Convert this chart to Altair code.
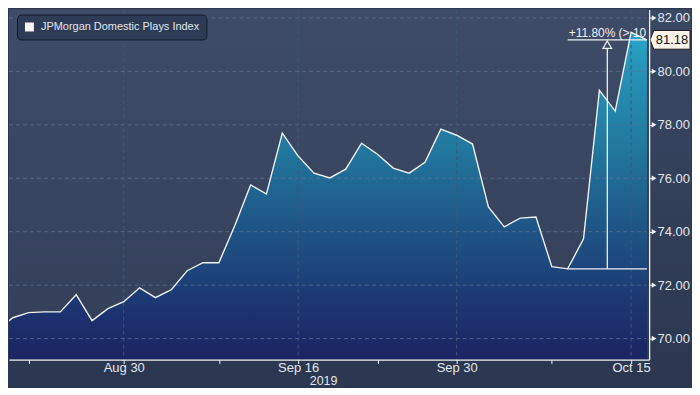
import altair as alt
import pandas as pd

# ---------------- data ----------------
dates = ["Aug 20", "Aug 21", "Aug 22", "Aug 23", "Aug 26", "Aug 27", "Aug 28", "Aug 29", "Aug 30",
         "Sep 2", "Sep 3", "Sep 4", "Sep 5", "Sep 6", "Sep 9", "Sep 10", "Sep 11", "Sep 12", "Sep 13",
         "Sep 16", "Sep 17", "Sep 18", "Sep 19", "Sep 20", "Sep 23", "Sep 24", "Sep 25", "Sep 26", "Sep 27",
         "Sep 30", "Oct 1", "Oct 2", "Oct 3", "Oct 4", "Oct 7", "Oct 8", "Oct 9", "Oct 10", "Oct 11",
         "Oct 14", "Oct 15", "Oct 16"]
values = [70.30, 70.78, 70.97, 71.00, 71.00, 71.64, 70.67, 71.12, 71.38,
          71.90, 71.53, 71.83, 72.54, 72.84, 72.84, 74.22, 75.75, 75.41, 77.69,
          76.83, 76.19, 76.01, 76.34, 77.31, 76.90, 76.38, 76.19, 76.60, 77.84,
          77.61, 77.28, 74.93, 74.18, 74.51, 74.55, 72.69, 72.61, 73.73, 79.29,
          78.51, 81.46, 81.18]
series_name = "JPMorgan Domestic Plays Index"

tick_days = [2, 8, 14, 19, 24, 29, 35, 40]          # positions in `dates` carrying a tick
label_days = [8, 19, 29, 40]                        # labelled positions
label_text = ["Aug 30", "Sep 16", "Sep 30", "Oct 15"]
axis_year = "2019"
y_ticks = [70, 71, 72, 73, 74, 75, 76, 77, 78, 79, 80, 81, 82]
y_labels = [70, 72, 74, 76, 78, 80, 82]

last_value = 81.18
base_value = 72.61
annot_start = 36      # Oct 9
annot_end = 41        # Oct 16
annot_arrow_x = 38.5
annot_arrow_top = 80.86
annot_text = "+11.80% (> 10"

# ---------------- layout ----------------
W, H = 642, 351
FONT = "Liberation Sans"
TXT = "#e2e6ed"
WHITE = "#eef0f4"

xs = alt.Scale(domain=[0.761, 41.138], nice=False, zero=False)
ys = alt.Scale(domain=[69.216, 82.313], nice=False, zero=False)

df = pd.DataFrame({"i": list(range(len(values))), "v": values, "d": dates, "s": series_name})
one = pd.DataFrame({"k": [0]})

lab_expr = " : ".join(f"datum.value == {d} ? '{t}'" for d, t in zip(label_days, label_text)) + " : ''"

x_axis = alt.Axis(values=tick_days, labelExpr=lab_expr, tickSize=4, tickColor=WHITE,
                  domainColor=WHITE, domainWidth=1.3, labelColor=TXT, labelFontSize=13,
                  labelPadding=-2, labelOverlap=False, labelFlush=False, grid=False,
                  title=axis_year, titleFontSize=12.5, titleFontWeight="normal", titleColor=TXT,
                  titleX=315, titleY=15, titleBaseline="top", titleAlign="center", zindex=1)
y_axis = alt.Axis(orient="right", values=y_ticks,
                  labelExpr="datum.value % 2 == 0 ? format(datum.value, '.2f') : ''",
                  tickSize=4, tickColor=WHITE, domainColor=WHITE, domainWidth=1.3,
                  labelColor=TXT, labelFontSize=13, labelPadding=4, grid=False,
                  title=None, zindex=1)

# backgrounds
outer_bg = alt.Chart(one).mark_rect(
    strokeWidth=0,
    color=alt.Gradient(gradient="linear", x1=0, x2=0, y1=0, y2=1,
                       stops=[alt.GradientStop(color="#3b4863", offset=0),
                              alt.GradientStop(color="#2b3750", offset=1)])
).encode(x=alt.value(0), x2=alt.value(684), y=alt.value(0), y2=alt.value(379))

plot_bg = alt.Chart(one).mark_rect(
    strokeWidth=0,
    color=alt.Gradient(gradient="linear", x1=0, x2=0, y1=0, y2=1,
                       stops=[alt.GradientStop(color="#3f4c67", offset=0),
                              alt.GradientStop(color="#333f59", offset=1)])
).encode(x=alt.value(0), x2=alt.value(639), y=alt.value(0), y2=alt.value(H))

area = alt.Chart(df).mark_area(
    clip=True,
    color=alt.Gradient(gradient="linear", x1=0, x2=0, y1=0, y2=1,
                       stops=[alt.GradientStop(color="#2aa7c8", offset=0),
                              alt.GradientStop(color="#2692b6", offset=0.12),
                              alt.GradientStop(color="#22789f", offset=0.35),
                              alt.GradientStop(color="#1f5b8b", offset=0.55),
                              alt.GradientStop(color="#1d4079", offset=0.76),
                              alt.GradientStop(color="#1c2b69", offset=0.92),
                              alt.GradientStop(color="#1b2462", offset=1)])
).encode(x=alt.X("i:Q", scale=xs, axis=x_axis),
         y=alt.Y("v:Q", scale=ys, axis=y_axis, stack=False),
         y2=alt.value(H))

hgrid = alt.Chart(pd.DataFrame({"v": y_labels})).mark_rule(
    strokeDash=[4, 3], color="#5f7292", opacity=0.75, strokeWidth=1
).encode(y=alt.Y("v:Q", scale=ys), x=alt.value(0), x2=alt.value(639))

vgrid = alt.Chart(pd.DataFrame({"i": label_days})).mark_rule(
    strokeDash=[4, 3], color="#3a5878", strokeWidth=1
).encode(x=alt.X("i:Q", scale=xs), y=alt.value(0), y2=alt.value(H))

line = alt.Chart(df).mark_line(clip=True, strokeWidth=1.4).encode(
    x=alt.X("i:Q", scale=xs),
    y=alt.Y("v:Q", scale=ys),
    color=alt.Color("s:N", scale=alt.Scale(domain=[series_name], range=[WHITE]),
                    legend=alt.Legend(title=None, orient="none", legendX=8, legendY=5,
                                      symbolType="square", symbolSize=81,
                                      symbolFillColor="#fff6f2", symbolStrokeColor="#fff6f2",
                                      symbolStrokeWidth=0, labelFontSize=11, labelLimit=300,
                                      labelColor=TXT, labelFont=FONT, fillColor="#2d3b56",
                                      strokeColor="#131a28", cornerRadius=4, padding=7,
                                      labelOffset=6)),
)

hrules = alt.Chart(pd.DataFrame({"i": [annot_start, annot_start], "i2": [annot_end, annot_end],
                                 "v": [last_value, base_value]})).mark_rule(
    color=WHITE, strokeWidth=1.3
).encode(x=alt.X("i:Q", scale=xs), x2="i2:Q", y=alt.Y("v:Q", scale=ys))

vrule = alt.Chart(pd.DataFrame({"i": [annot_arrow_x], "v": [base_value], "v2": [annot_arrow_top]})).mark_rule(
    color=WHITE, strokeWidth=1.3
).encode(x=alt.X("i:Q", scale=xs), y=alt.Y("v:Q", scale=ys), y2="v2:Q")

arrow = alt.Chart(pd.DataFrame({"i": [annot_arrow_x], "v": [81.0]})).mark_point(
    shape="triangle-up", filled=True, fill="#3b4864", stroke=WHITE, strokeWidth=1.2,
    size=75, opacity=1
).encode(x=alt.X("i:Q", scale=xs), y=alt.Y("v:Q", scale=ys))

annot = alt.Chart(pd.DataFrame({"i": [annot_start], "v": [last_value], "t": [annot_text]})).mark_text(
    align="left", baseline="alphabetic", dx=1, dy=-3, fontSize=12, color="#eceef2", font=FONT
).encode(x=alt.X("i:Q", scale=xs), y=alt.Y("v:Q", scale=ys), text="t:N")

ymarks = alt.Chart(pd.DataFrame({"v": y_labels})).mark_point(
    shape="triangle-right", filled=True, size=30, color=WHITE, opacity=1
).encode(y=alt.Y("v:Q", scale=ys), x=alt.value(W + 5))

tag_shape = "M -1 0 L -0.82 -0.47 L 1 -0.47 L 1 0.47 L -0.82 0.47 Z"
tag = alt.Chart(pd.DataFrame({"v": [last_value]})).mark_point(
    shape=tag_shape, filled=True, fill="#fdf3ea", stroke="#1a1a1a", strokeWidth=1,
    size=1600, opacity=1
).encode(y=alt.Y("v:Q", scale=ys), x=alt.value(W + 21))

tag_text = alt.Chart(pd.DataFrame({"v": [last_value]})).mark_text(
    fontSize=13, color="#111111", align="center", baseline="middle", font=FONT
).encode(y=alt.Y("v:Q", scale=ys), x=alt.value(W + 23), text=alt.Text("v:Q", format=".2f"))

chart = alt.layer(
    outer_bg, plot_bg, area, hgrid, vgrid, line, hrules, vrule, arrow, annot, ymarks, tag, tag_text
).properties(
    width=W, height=H, padding=0, background="#2c3851"
).configure(font=FONT).configure_view(strokeWidth=0)

chart.save("out.html", embed_options={"renderer": "svg", "actions": False})
